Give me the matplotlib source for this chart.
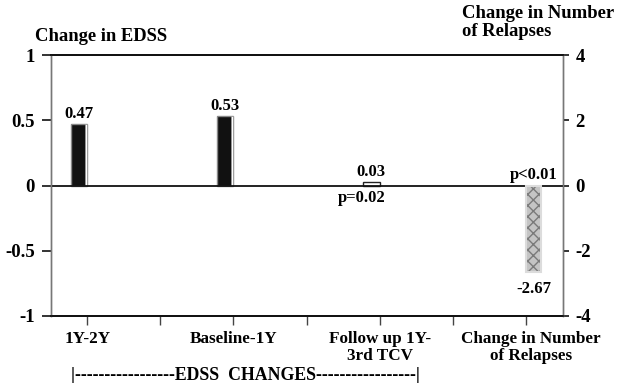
import matplotlib
matplotlib.use("Agg")
import matplotlib.pyplot as plt
from matplotlib.transforms import ScaledTranslation

# ---- data ----
categories = ["1Y-2Y", "Baseline-1Y", "Follow up 1Y-\n3rd TCV", "Change in Number\nof Relapses"]
edss_values = [0.47, 0.53, 0.03]
edss_labels = ["0.47", "0.53", "0.03"]
relapse_value = -2.67
relapse_label = "-2.67"
p_edss = "p=0.02"
p_relapse = "p<0.01"
left_ticks = [1, 0.5, 0, -0.5, -1]
left_ticklabels = ["1", "0.5", "0", "-0.5", "-1"]
right_ticks = [4, 2, 0, -2, -4]
right_ticklabels = ["4", "2", "0", "-2", "-4"]

FONT = "Liberation Serif"
plt.rcParams["font.family"] = [FONT, "DejaVu Serif"]
plt.rcParams["font.weight"] = "bold"

fig = plt.figure(figsize=(6.23, 3.83), dpi=100)
ax = fig.add_axes([0.0814, 0.1757, 0.8215, 0.6799])
ax2 = ax.twinx()

ax.set_xlim(-0.25, 3.25)
ax.set_ylim(-1, 1)
ax2.set_ylim(-4, 4)

bw = 0.114
xs = list(range(len(edss_values)))
face = ["#111111", "#111111", "white"]
edge = ["#888888", "#888888", "#222222"]
ax.bar(xs, edss_values, width=-bw, align="edge", color=face, edgecolor=edge, linewidth=1.0, zorder=3)
# white highlight strip on right side of dark bars
ax.bar(xs[:2], edss_values[:2], width=-0.016, align="edge", color="white", edgecolor="#999999",
       linewidth=0.6, zorder=4)

# relapse bar with cross hatch
rb = 0.103
ax2.bar([3], [relapse_value], width=rb, align="edge", color="#c4c4c4", edgecolor="#7a7a7a",
        hatch="xxx", linewidth=0, zorder=3)
ax2.bar([3], [relapse_value], width=rb, align="edge", color="none", edgecolor="#dcdcdc",
        linewidth=1.5, zorder=4)

# zero line
ax.axhline(0, color="#111111", linewidth=1.3, zorder=5)

VFS = 12
# value labels
for x, v, t in zip(xs, edss_values, edss_labels):
    ax.annotate(t, (x - bw / 2, v), xytext=(0, 1.5), textcoords="offset points",
                ha="center", va="bottom", fontsize=VFS, fontweight="bold")
ax.annotate(p_edss, (2 - bw * 1.1, 0), xytext=(0, -3), textcoords="offset points",
            ha="center", va="top", fontsize=VFS, fontweight="bold")
ax2.annotate(p_relapse, (3 + rb / 2, 0), xytext=(0, 2), textcoords="offset points",
             ha="center", va="bottom", fontsize=VFS, fontweight="bold")
ax2.annotate(relapse_label, (3 + rb / 2, relapse_value), xytext=(0, -6), textcoords="offset points",
             ha="center", va="top", fontsize=VFS, fontweight="bold")

# axes styling
ax.set_xticks(range(len(categories)))
ax.set_xticklabels(categories, fontsize=12.3, fontweight="bold", linespacing=1.05)
ax.set_xticks([0.5, 1.5, 2.5], minor=True)
ax.tick_params(axis="x", which="both", direction="out", length=6.5, width=1.0, color="#444444", pad=4.5)
lbl = ax.get_xticklabels()[-1]
lbl.set_transform(lbl.get_transform() + ScaledTranslation(5 / 100, 0, fig.dpi_scale_trans))
ax.set_yticks(left_ticks)
ax.set_yticklabels(left_ticklabels, fontsize=13.5, fontweight="bold")
ax.tick_params(axis="y", direction="out", length=6.3, width=1.2, color="#111111", pad=5)
ax2.set_yticks(right_ticks)
ax2.set_yticklabels(right_ticklabels, fontsize=13.5, fontweight="bold")
ax2.tick_params(axis="y", direction="out", length=4.3, width=1.2, color="#111111", pad=5)

for a in (ax, ax2):
    a.spines["left"].set_color("#777777")
    a.spines["right"].set_color("#777777")
    a.spines["left"].set_linewidth(1.0)
    a.spines["right"].set_linewidth(1.0)
    a.spines["top"].set_color("#111111")
    a.spines["bottom"].set_color("#111111")
    a.spines["top"].set_linewidth(1.3)
    a.spines["bottom"].set_linewidth(1.3)

# axis titles
fig.text(35 / 623, 1 - 41 / 383, "Change in EDSS", fontsize=13.4, fontweight="bold", ha="left", va="baseline")
fig.text(462 / 623, 1 - 36 / 383, "Change in Number\nof Relapses", fontsize=13.4, fontweight="bold",
         ha="left", va="baseline", linespacing=1.1)

# group bracket
fig.text(245 / 623, 1 - 379.5 / 383, "|-----------------EDSS  CHANGES-----------------|",
         fontsize=12.8, fontweight="bold", ha="center", va="baseline")

fig.savefig("out.png", dpi=100)
